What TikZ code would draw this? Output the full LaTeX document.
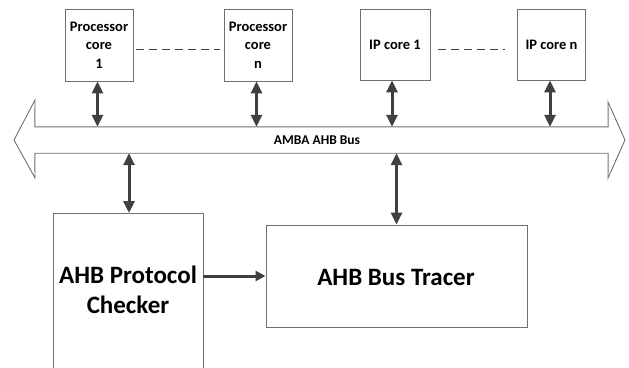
\documentclass[tikz,border=0pt]{standalone}
\usepackage{fontspec}
\setmainfont{Carlito}
\usetikzlibrary{arrows.meta}
\definecolor{boxline}{HTML}{707070}
\definecolor{arr}{HTML}{404040}
\begin{document}
\begin{tikzpicture}[x=1pt,y=-1pt,
  corebox/.style={draw=boxline,line width=0.9pt,inner sep=0pt,align=center,
     font=\bfseries\fontsize{14.5}{18.5}\selectfont,minimum height=72pt,minimum width=68pt},
  bigtext/.style={inner sep=0pt,align=center,font=\bfseries\fontsize{25}{30}\selectfont},
  link/.style={draw=arr,line width=3pt,{Triangle[length=12pt,width=11pt]}-{Triangle[length=12pt,width=11pt]}},
  onelink/.style={draw=arr,line width=3pt,-{Triangle[length=10pt,width=10pt]}},
  dashlink/.style={draw=arr,line width=1pt,dash pattern=on 8pt off 5pt}]
\useasboundingbox (0,0) rectangle (629,367);
\fill[white] (0,0) rectangle (629,367);
% cores
\node[corebox] (p1) at (99,45) {Processor\\core\\1};
\node[corebox] (pn) at (258,45) {Processor\\core\\n};
\node[corebox,minimum width=70pt,minimum height=71pt] (ip1) at (395,44.5) {IP core 1};
\node[corebox,minimum height=71pt] (ipn) at (551.5,44.5) {IP core n};
\draw[dashlink] ([xshift=3pt,yshift=-4pt]p1.east) -- ([xshift=-4pt,yshift=-4pt]pn.west);
\draw[dashlink] ([xshift=8pt,yshift=-5pt]ip1.east) -- ([xshift=-12pt,yshift=-5pt]ipn.west);
% bus
\node[inner sep=0pt,minimum width=573pt,minimum height=26pt] (bus) at (321.5,140) {};
\draw[boxline,line width=0.9pt,fill=white] (bus.north west) -- (35,100) -- (14,140) -- (35,178) -- (bus.south west)
  -- (bus.south east) -- (608,178) -- (625,140) -- (608,102) -- (bus.north east) -- cycle;
\node[inner sep=0pt,font=\bfseries\fontsize{13.5}{15}\selectfont] (buslabel) at (317,140) {AMBA AHB Bus};
% links cores to bus
\draw[link] ([xshift=-1.5pt]p1.south) -- ([xshift=-1.5pt]p1.south |- bus.north);
\draw[link] ([xshift=-1.5pt]pn.south) -- ([xshift=-1.5pt]pn.south |- bus.north);
\draw[link] ([xshift=-3pt]ip1.south) -- ([xshift=-3pt]ip1.south |- bus.north);
\draw[link] ([xshift=-1.5pt]ipn.south) -- ([xshift=-1.5pt]ipn.south |- bus.north);
% checker
\coordinate (cktl) at (53,213);
\coordinate (cktr) at (203,213);
\coordinate (ckbl) at (53,370);
\coordinate (ckbr) at (203,370);
\draw[boxline,line width=0.9pt] (ckbl) -- (cktl) -- (cktr) -- (ckbr);
\node[bigtext] (checker) at (128,290) {AHB Protocol\\Checker};
\coordinate (cktop) at (129,213);
\coordinate (ckright) at (203,276);
% tracer
\node[draw=boxline,line width=0.9pt,minimum width=261pt,minimum height=102pt,inner sep=0pt] (tracer) at (396.5,276) {};
\node[bigtext] (tracertext) at (396,277) {AHB Bus Tracer};
% links to bus
\draw[link] (cktop |- bus.south) -- (cktop);
\draw[link] (tracer.north |- bus.south) -- (tracer.north);
\draw[onelink] (ckright) -- (ckright -| tracer.west);
\end{tikzpicture}
\end{document}
